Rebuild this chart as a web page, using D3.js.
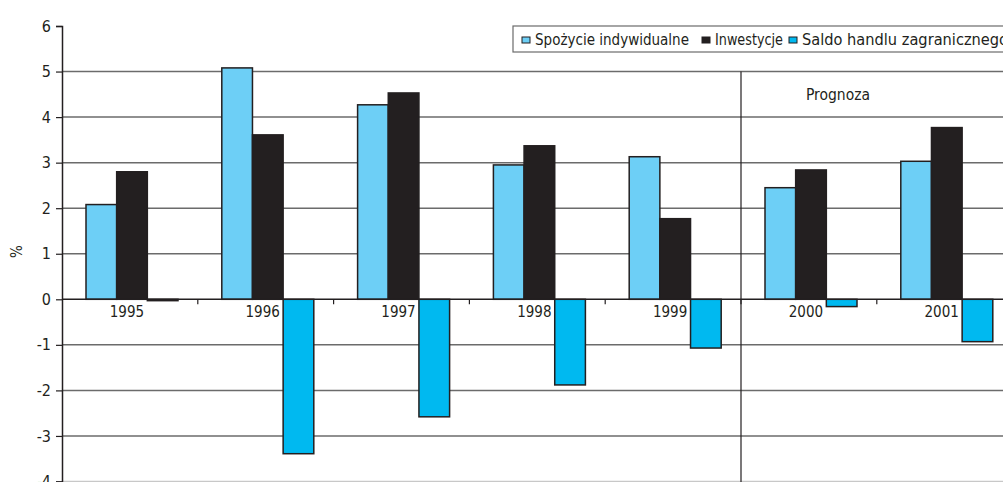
<!DOCTYPE html>
<html>
<head>
<meta charset="utf-8">
<script src="https://cdn.jsdelivr.net/npm/d3@7"></script>
<style>
  html, body { margin: 0; padding: 0; background: #fff; }
  svg { display: block; }
  text { font-family: "DejaVu Sans Condensed", "Liberation Sans", sans-serif; fill: #231f20; }
</style>
</head>
<body>
<svg id="chart" width="1003" height="482"></svg>
<script>
// Years on the category axis
const years = ["1995", "1996", "1997", "1998", "1999", "2000", "2001"];
// Series names (legend)
const seriesNames = ["Spożycie indywidualne", "Inwestycje", "Saldo handlu zagranicznego"];
// Annual growth / contribution, %
const consumption = [2.08, 5.08, 4.27, 2.95, 3.13, 2.45, 3.03];
const investment  = [2.80, 3.61, 4.53, 3.37, 1.77, 2.84, 3.77];
const tradeBalance = [-0.03, -3.39, -2.58, -1.88, -1.07, -0.16, -0.93];
// Value axis ticks
const yTicks = [-4, -3, -2, -1, 0, 1, 2, 3, 4, 5, 6];
const forecastFrom = "2000";
const forecastLabel = "Prognoza";
const yAxisLabel = "%";

const colors = ["#6dcff6", "#231f20", "#00b9f0"];
const seriesValues = [consumption, investment, tradeBalance];

const svg = d3.select("#chart");

const x0 = d3.scaleBand().domain(years).range([62, 62 + 7 * 135.8]);
const x1 = d3.scaleBand().domain(d3.range(3)).range([24, 116]);
const y = d3.scaleLinear().domain([-4, 6]).range([481.5, 26]);

// horizontal gridlines
svg.append("g")
  .selectAll("line")
  .data(yTicks.filter(t => t !== 0 && t !== 6))
  .join("line")
  .attr("x1", 62).attr("x2", 1003)
  .attr("y1", d => y(d)).attr("y2", d => y(d))
  .attr("stroke", d => d === -4 ? "#c8c8c8" : "#6b6b6b")
  .attr("stroke-width", 1.5);

// forecast divider
const divX = x0(forecastFrom);
svg.append("line")
  .attr("x1", divX).attr("x2", divX)
  .attr("y1", y(5)).attr("y2", 482)
  .attr("stroke", "#231f20").attr("stroke-width", 1.2);

svg.append("text")
  .attr("x", 838).attr("y", 100)
  .attr("text-anchor", "middle")
  .attr("font-size", 15.5)
  .text(forecastLabel);

// bars
const groups = svg.append("g")
  .selectAll("g")
  .data(years)
  .join("g")
  .attr("transform", d => `translate(${x0(d)},0)`);

groups.selectAll("rect")
  .data((yr, i) => seriesValues.map((vals, s) => ({ s, v: vals[i] })))
  .join("rect")
  .attr("x", d => x1(d.s))
  .attr("width", x1.bandwidth())
  .attr("y", d => y(Math.max(0, d.v)))
  .attr("height", d => Math.abs(y(d.v) - y(0)))
  .attr("fill", d => colors[d.s])
  .attr("stroke", "#231f20")
  .attr("stroke-width", 1.5);

// zero line (category axis)
svg.append("line")
  .attr("x1", 62).attr("x2", 1003)
  .attr("y1", y(0)).attr("y2", y(0))
  .attr("stroke", "#231f20").attr("stroke-width", 1.5);

// category ticks between groups
svg.append("g")
  .selectAll("line")
  .data(years.slice(1))
  .join("line")
  .attr("x1", d => x0(d)).attr("x2", d => x0(d))
  .attr("y1", y(0)).attr("y2", y(0) + 5)
  .attr("stroke", "#231f20").attr("stroke-width", 1.2);

// year labels
svg.append("g")
  .selectAll("text")
  .data(years)
  .join("text")
  .attr("x", d => x0(d) + x0.bandwidth() / 2 - 3)
  .attr("y", y(0) + 18)
  .attr("text-anchor", "middle")
  .attr("font-size", 15)
  .text(d => d);

// value axis
const yAxis = d3.axisLeft(y).tickValues(yTicks).tickSize(6).tickPadding(5).tickFormat(d => String(d));
const gy = svg.append("g").attr("transform", "translate(62,0)").call(yAxis);
gy.attr("font-family", null).attr("font-size", null);
gy.select(".domain").attr("stroke", "#231f20").attr("stroke-width", 1.5);
gy.selectAll(".tick line").attr("stroke", "#231f20").attr("stroke-width", 1.2);
gy.selectAll(".tick text")
  .attr("font-size", 16)
  .attr("fill", "#231f20");

svg.append("text")
  .attr("transform", `translate(22,${y(1.05)}) rotate(-90)`)
  .attr("text-anchor", "middle")
  .attr("font-size", 15)
  .text(yAxisLabel);

// legend
const legend = svg.append("g").attr("transform", "translate(513,26)");
legend.append("rect")
  .attr("x", 0).attr("y", 0)
  .attr("width", 520).attr("height", 26)
  .attr("fill", "#fff").attr("stroke", "#6b6b6b").attr("stroke-width", 1.2);
const legendX = [9, 189, 276];
const legendW = [154, 68, 206];
seriesNames.forEach((name, i) => {
  legend.append("rect")
    .attr("x", legendX[i]).attr("y", 11)
    .attr("width", 8).attr("height", 6)
    .attr("fill", colors[i]).attr("stroke", "#231f20").attr("stroke-width", 1);
  legend.append("text")
    .attr("x", legendX[i] + 13).attr("y", 18.5)
    .attr("font-size", 15.5)
    .attr("textLength", legendW[i])
    .attr("lengthAdjust", "spacingAndGlyphs")
    .text(name);
});
</script>
</body>
</html>
